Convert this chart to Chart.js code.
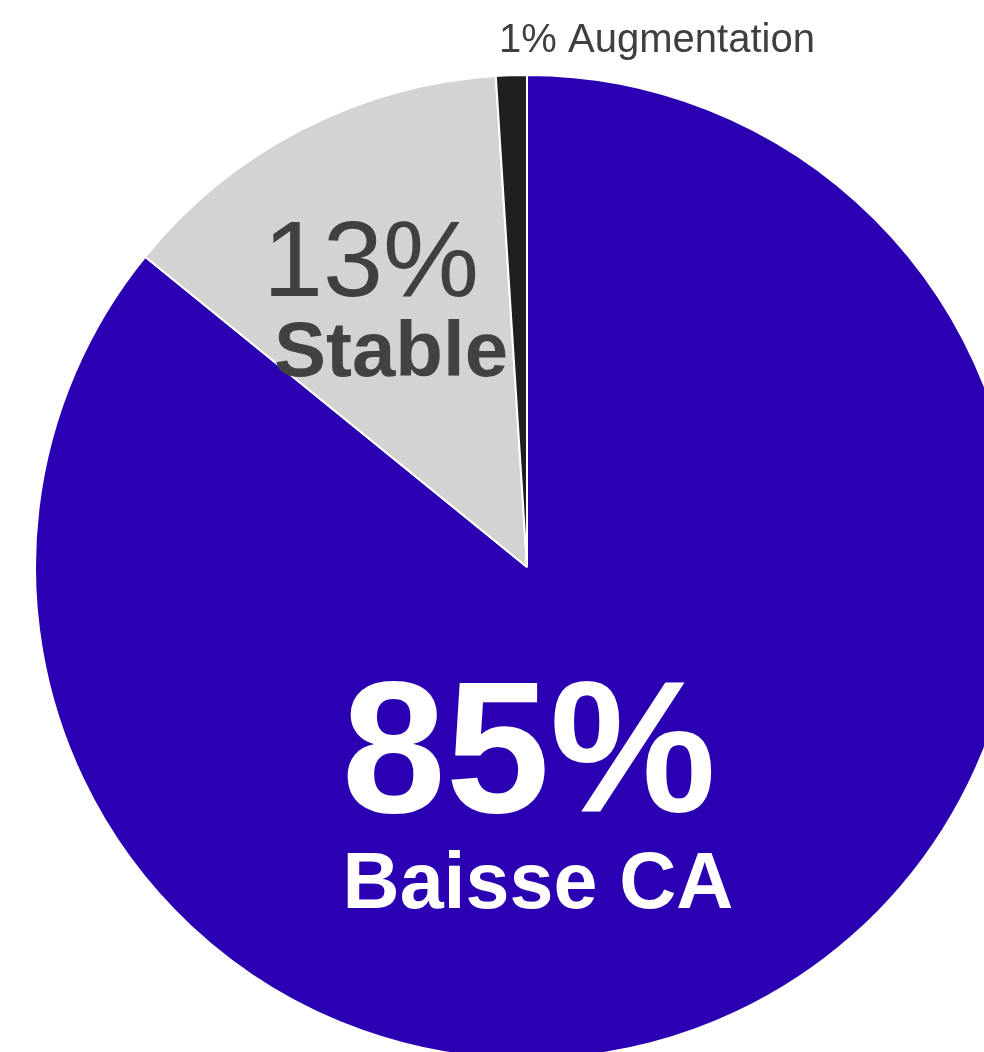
<!DOCTYPE html>
<html>
<head>
<meta charset="utf-8">
<script src="https://cdn.jsdelivr.net/npm/chart.js@4/dist/chart.umd.min.js"></script>
<style>
    html, body { margin: 0; padding: 0; background: #fff; width: 984px; height: 1052px; overflow: hidden; }
    #chartCA { position: absolute; left: 34px; top: 0; }
</style>
</head>
<body>
<canvas id="chartCA" width="986" height="1060"></canvas>
<script>
const categories = ['Baisse CA', 'Stable', 'Augmentation'];
const values = [85, 13, 1];
const sliceColors = ['#2b00b2', '#d3d3d3', '#1f1f1f'];

// label placement relative to pie centre (px), fonts and colours
const labelStyles = [
    { lines: [
        { text: v => v + '%', dx: 2, dy: 245, font: 'bold 187px "Liberation Sans", Arial', color: '#ffffff' },
        { text: (v, c) => c, dx: 11, dy: 341, font: 'bold 79px "Liberation Sans", Arial', color: '#ffffff' }
    ]},
    { lines: [
        { text: v => v + '%', dx: -156, dy: -271, font: '108px "Liberation Sans", Arial', color: '#404040' },
        { text: (v, c) => c, dx: -136, dy: -191, font: 'bold 78px "Liberation Sans", Arial', color: '#424242' }
    ]},
    { lines: [
        { text: (v, c) => v + '% ' + c, dx: 130, dy: -515, font: '40px "Liberation Sans", Arial', color: '#3f3f3f' }
    ]}
];

const sliceLabels = {
    id: 'sliceLabels',
    afterDatasetsDraw(chart) {
        const ctx = chart.ctx;
        const meta = chart.getDatasetMeta(0);
        ctx.save();
        ctx.textAlign = 'center';
        ctx.textBaseline = 'alphabetic';
        meta.data.forEach((arc, i) => {
            labelStyles[i].lines.forEach(l => {
                ctx.font = l.font;
                ctx.fillStyle = l.color;
                ctx.fillText(l.text(values[i], categories[i]), arc.x + l.dx, arc.y + l.dy);
            });
        });
        ctx.restore();
    }
};

new Chart(document.getElementById('chartCA').getContext('2d'), {
    type: 'pie',
    data: {
        labels: categories,
        datasets: [{
            data: values,
            backgroundColor: sliceColors,
            borderColor: '#ffffff',
            borderWidth: 2
        }]
    },
    options: {
        responsive: false,
        animation: false,
        layout: { padding: { top: 74, left: 0, right: 0, bottom: 0 } },
        plugins: {
            legend: { display: false },
            tooltip: { enabled: false }
        }
    },
    plugins: [sliceLabels]
});
</script>
</body>
</html>
